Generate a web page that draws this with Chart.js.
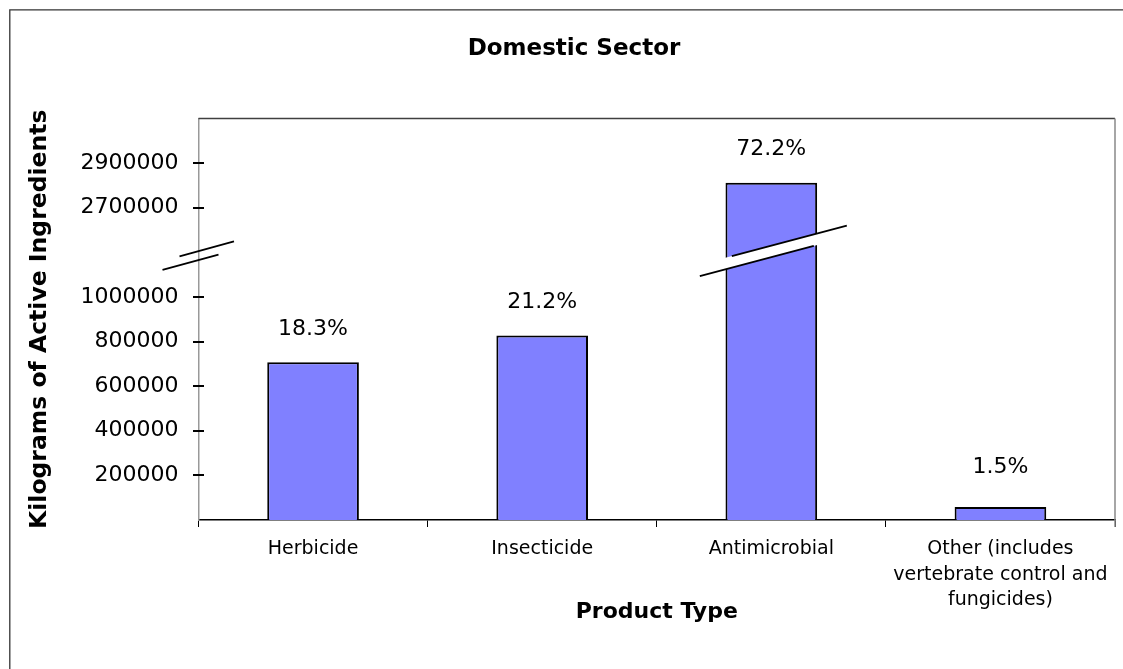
<!DOCTYPE html>
<html>
<head>
<meta charset="utf-8">
<title>Domestic Sector</title>
<script src="https://cdn.jsdelivr.net/npm/chart.js@4/dist/chart.umd.min.js"></script>
<style>
    html, body { margin: 0; padding: 0; background: #fff; }
    canvas { display: block; }
</style>
</head>
<body>
<canvas id="sectorChart" width="1123" height="669"></canvas>
<script>
// Domestic sector pesticide use, with a broken value axis
const categories = ['Herbicide', 'Insecticide', 'Antimicrobial', ['Other (includes', 'vertebrate control and', 'fungicides)']];
const kilograms = [707000, 827000, 2812000, 58000];
const shares = ['18.3%', '21.2%', '72.2%', '1.5%'];
const lowerTicks = [200000, 400000, 600000, 800000, 1000000];
const upperTicks = [2700000, 2900000];

// the axis skips 1300000 kg between 1000000 and 2700000
const breakGap = 1300000;
const axisBreak = 1185000;   // where the axis break marks sit (axis units)
const barBreak = 1205000;    // where the bar break marks sit (axis units)

function toAxis(v) {
    return v >= axisBreak + breakGap ? v - breakGap : v;
}
function fromAxis(v) {
    return v > axisBreak ? v + breakGap : v;
}

Chart.defaults.font.family = "'DejaVu Sans', sans-serif";
Chart.defaults.color = '#000';

const breakPlugin = {
    id: 'axisBreaks',
    beforeDraw: (chart) => {
        const ctx = chart.ctx;
        ctx.save();
        ctx.strokeStyle = '#333';
        ctx.lineWidth = 1.3;
        // outer chart frame (right and bottom fall outside the picture)
        ctx.beginPath();
        ctx.moveTo(9.8, chart.height + 5);
        ctx.lineTo(9.8, 9.8);
        ctx.lineTo(chart.width + 5, 9.8);
        ctx.stroke();
        ctx.restore();
    },
    afterDraw: (chart) => {
        const ctx = chart.ctx;
        const area = chart.chartArea;
        const y = chart.scales.y;
        ctx.save();
        // plot area top and right edges
        ctx.lineWidth = 1.5;
        ctx.strokeStyle = '#404040';
        ctx.beginPath();
        ctx.moveTo(area.left, area.top);
        ctx.lineTo(area.right, area.top);
        ctx.stroke();
        ctx.strokeStyle = '#888';
        ctx.beginPath();
        ctx.moveTo(area.right, area.top);
        ctx.lineTo(area.right, area.bottom + 7);
        ctx.stroke();

        // y tick marks crossing the axis
        ctx.strokeStyle = '#000';
        ctx.lineWidth = 2;
        for (const t of y.ticks) {
            const py = Math.round(y.getPixelForValue(t.value));
            ctx.beginPath();
            ctx.moveTo(area.left - 5.5, py);
            ctx.lineTo(area.left + 5.5, py);
            ctx.stroke();
        }

        // break marks on the axis
        const ay = y.getPixelForValue(axisBreak);
        const ax = area.left;
        ctx.lineWidth = 1.8;
        ctx.beginPath();
        ctx.moveTo(ax - 19, ay + 0.6);
        ctx.lineTo(ax + 35.5, ay - 14.3);
        ctx.moveTo(ax - 36, ay + 14.2);
        ctx.lineTo(ax + 20, ay - 1);
        ctx.stroke();

        // break marks on tall bars
        const meta = chart.getDatasetMeta(0);
        const s = -0.265;
        meta.data.forEach((bar, i) => {
            if (kilograms[i] < axisBreak + breakGap) return;
            const cx = bar.x;
            const cy = y.getPixelForValue(barBreak);
            const w = bar.width / 2 + 2;
            const up = (x) => cy - 5.6 + s * (x - cx);
            const lo = (x) => cy + 5.9 + s * (x - cx);
            ctx.fillStyle = '#fff';
            ctx.beginPath();
            ctx.moveTo(cx - w, up(cx - w));
            ctx.lineTo(cx + w, up(cx + w));
            ctx.lineTo(cx + w, lo(cx + w));
            ctx.lineTo(cx - w, lo(cx - w));
            ctx.closePath();
            ctx.fill();
            ctx.strokeStyle = '#000';
            ctx.lineWidth = 1.8;
            ctx.beginPath();
            ctx.moveTo(cx - 39.5, up(cx - 39.5));
            ctx.lineTo(cx + 75.5, up(cx + 75.5));
            ctx.moveTo(cx - 71.5, lo(cx - 71.5));
            ctx.lineTo(cx + 42.5, lo(cx + 42.5));
            ctx.stroke();
        });

        // share labels above bars
        ctx.fillStyle = '#000';
        ctx.font = "22px 'DejaVu Sans', sans-serif";
        ctx.textAlign = 'center';
        ctx.textBaseline = 'middle';
        meta.data.forEach((bar, i) => {
            ctx.fillText(shares[i], bar.x, Math.min(bar.y - 33, area.bottom - 53));
        });
        ctx.restore();
    }
};

const ctx = document.getElementById('sectorChart').getContext('2d');
new Chart(ctx, {
    type: 'bar',
    data: {
        labels: categories,
        datasets: [{
            data: kilograms.map(toAxis),
            backgroundColor: '#8080ff',
            borderColor: '#000',
            borderWidth: 2,
            barPercentage: 0.4,
            categoryPercentage: 1.0
        }]
    },
    options: {
        responsive: false,
        animation: false,
        devicePixelRatio: 1,
        layout: { padding: { left: 33, right: 8, top: 0, bottom: 0 } },
        plugins: {
            legend: { display: false },
            tooltip: { enabled: false },
            title: {
                display: true,
                text: 'Domestic Sector',
                color: '#000',
                font: { size: 23, weight: 'bold' },
                padding: { top: 35.2, bottom: 55.7 }
            }
        },
        scales: {
            x: {
                grid: { display: true, drawOnChartArea: false, drawTicks: true, tickLength: 7, color: '#000', lineWidth: 1 },
                border: { display: true, color: '#000', width: 1.5 },
                ticks: { color: '#000', font: { size: 19, lineHeight: 1.32 }, padding: 10, maxRotation: 0, autoSkip: false },
                title: {
                    display: true,
                    text: 'Product Type',
                    color: '#000',
                    font: { size: 22, weight: 'bold' },
                    padding: { top: 0, bottom: 44 }
                },
                afterFit: (scale) => { scale.height = 149; }
            },
            y: {
                min: 0,
                max: 1800000,
                grid: { display: true, drawOnChartArea: false, drawTicks: false },
                border: { display: true, color: '#999', width: 1.5 },
                afterBuildTicks: (scale) => {
                    scale.ticks = lowerTicks.concat(upperTicks).map(v => ({ value: toAxis(v) }));
                },
                ticks: {
                    color: '#000',
                    font: { size: 22 },
                    padding: 20,
                    autoSkip: false,
                    callback: (value) => String(fromAxis(value))
                },
                title: {
                    display: true,
                    text: 'Kilograms of Active Ingredients',
                    color: '#000',
                    font: { size: 23.5, weight: 'bold' },
                    padding: { top: -7, bottom: 0 }
                },
                afterFit: (scale) => { scale.width = 165.5; }
            }
        }
    },
    plugins: [breakPlugin]
});
</script>
</body>
</html>
